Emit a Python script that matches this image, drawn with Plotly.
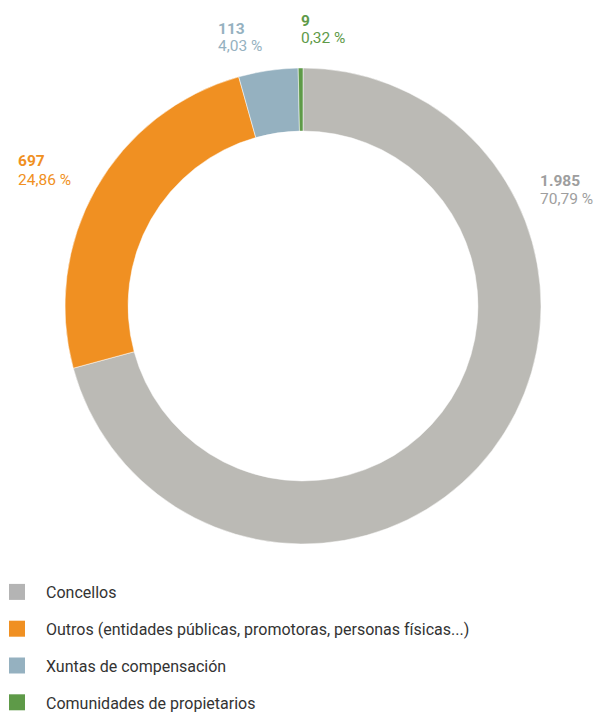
import plotly.graph_objects as go

# Data
categories = [
    "Concellos",
    "Outros (entidades públicas, promotoras, personas físicas...)",
    "Xuntas de compensación",
    "Comunidades de propietarios",
]
values = [1985, 697, 113, 9]
colors = ["#BBBAB5", "#F09022", "#95B1C0", "#5E9A48"]
legend_colors = ["#B4B4B4", "#F09022", "#95B1C0", "#5E9A48"]
label_colors = ["#9E9E9E", "#F09022", "#95B1C0", "#5E9A48"]

total = sum(values)

W, H = 597, 712


def fmt_int(v):
    return f"{v:,}".replace(",", ".")


def fmt_pct(v):
    return f"{v / total * 100:.2f}".replace(".", ",") + " %"


def py(px):
    return 1 - px / H


fig = go.Figure()

fig.add_trace(go.Pie(
    labels=categories,
    values=values,
    sort=False,
    direction="clockwise",
    rotation=0,
    hole=0.735,
    marker=dict(colors=colors, line=dict(color="white", width=0.5)),
    textinfo="none",
    hoverinfo="label+value+percent",
    showlegend=False,
    domain=dict(x=[65 / W, 541 / W], y=[py(544), py(68)]),
))

# Legend entries as square markers, one group each for row spacing
for i, (cat, col) in enumerate(zip(categories, legend_colors)):
    fig.add_trace(go.Scatter(
        x=[None], y=[None],
        mode="markers",
        marker=dict(symbol="square", size=16, color=col),
        name=cat,
        legendgroup=f"g{i}",
        showlegend=True,
        hoverinfo="skip",
    ))

# Value / percentage labels around the ring (left x, value line y, percent line y)
label_pos = [
    (538, 181, 199),   # Concellos
    (16, 161, 180),    # Outros
    (216, 29, 46),     # Xuntas
    (299, 21, 38),     # Comunidades
]
annotations = []
for v, lc, (lx, vy, pyy) in zip(values, label_colors, label_pos):
    annotations.append(dict(
        x=lx / W, y=py(vy), xref="paper", yref="paper",
        xanchor="left", yanchor="middle", align="left",
        showarrow=False,
        text=f"<b>{fmt_int(v)}</b>",
        font=dict(family="Roboto", size=15.5, color=lc),
    ))
    annotations.append(dict(
        x=lx / W, y=py(pyy), xref="paper", yref="paper",
        xanchor="left", yanchor="middle", align="left",
        showarrow=False,
        text=fmt_pct(v),
        font=dict(family="Roboto", size=15.5, color=lc),
    ))

fig.update_layout(
    width=W, height=H,
    margin=dict(l=0, r=0, t=0, b=0, autoexpand=False),
    paper_bgcolor="white",
    plot_bgcolor="white",
    font=dict(family="Roboto", size=16, color="#333333"),
    xaxis=dict(visible=False),
    yaxis=dict(visible=False),
    annotations=annotations,
    legend=dict(
        x=-12 / W, y=py(575), xanchor="left", yanchor="top",
        orientation="v",
        tracegroupgap=13,
        itemwidth=48,
        font=dict(family="Roboto", size=16, color="#333333"),
        bgcolor="rgba(0,0,0,0)",
    ),
)

fig.write_html("out.html")
